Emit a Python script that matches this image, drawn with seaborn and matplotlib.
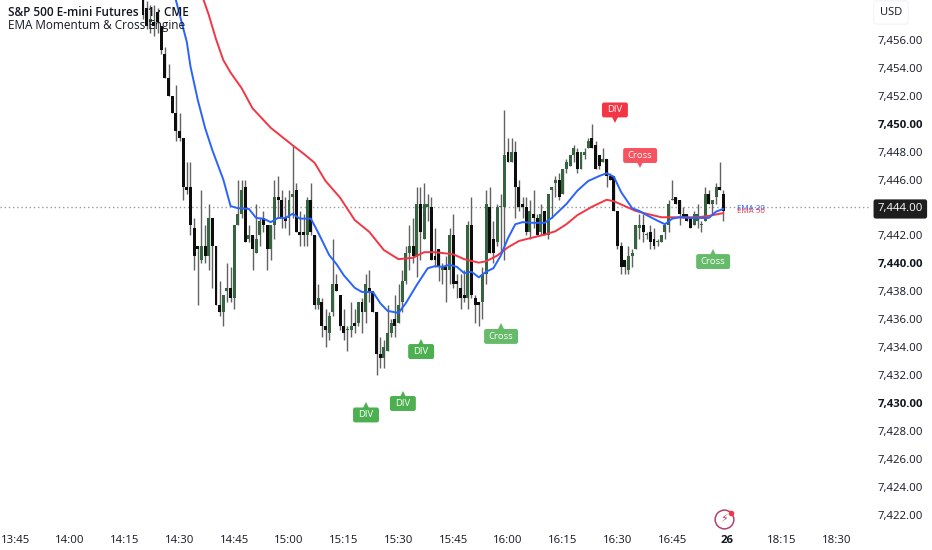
import matplotlib

matplotlib.use("Agg")

import matplotlib.pyplot as plt
import numpy as np
import seaborn as sns
from matplotlib.patches import FancyBboxPatch

# one bar per minute, bar 0 is 14:20
opens = [
    7459.5, 7458.25, 7457.25, 7457.25, 7458.0, 7457.0, 7455.0, 7453.25, 7452.0, 7450.75,
    7449.5, 7449.0, 7445.5, 7445.5, 7442.5, 7441.25, 7440.25, 7441.25, 7440.5, 7443.25,
    7441.25, 7437.0, 7436.5, 7438.0, 7438.25, 7437.5, 7442.75, 7443.5, 7445.5, 7441.75,
    7442.0, 7440.75, 7442.0, 7443.25, 7442.75, 7441.0, 7442.75, 7444.75, 7444.5, 7443.25,
    7443.25, 7444.75, 7445.25, 7442.25, 7442.25, 7442.0, 7444.5, 7442.0, 7437.0, 7437.25,
    7435.5, 7435.0, 7436.5, 7438.5, 7437.75, 7435.5, 7435.25, 7435.25, 7435.75, 7435.75,
    7437.25, 7436.5, 7438.25, 7438.0, 7436.5, 7433.5, 7433.25, 7433.75, 7435.0, 7436.0,
    7435.75, 7437.25, 7438.75, 7440.75, 7441.25, 7440.5, 7444.25, 7441.75, 7444.0, 7444.0,
    7440.5, 7441.0, 7439.5, 7439.75, 7439.5, 7442.0, 7438.75, 7438.25, 7437.75, 7437.5,
    7442.75, 7437.5, 7437.25, 7437.25, 7439.25, 7444.0, 7441.75, 7441.5, 7444.0, 7444.0,
    7448.0, 7447.25, 7448.0, 7445.5, 7444.25, 7444.0, 7442.25, 7443.5, 7443.25, 7442.25,
    7443.75, 7442.0, 7445.25, 7445.75, 7446.0, 7445.0, 7446.75, 7447.0, 7447.75, 7448.0,
    7446.75, 7447.75, 7448.25, 7449.0, 7448.5, 7447.75, 7447.25, 7447.5, 7446.25, 7446.25,
    7443.75, 7441.25, 7440.25, 7439.5, 7440.5, 7441.0, 7442.5, 7442.75, 7442.0, 7442.25,
    7441.75, 7441.5, 7441.5, 7442.25, 7442.75, 7444.5, 7444.75, 7444.5, 7443.5, 7443.5,
    7443.25, 7442.75, 7443.0, 7442.75, 7443.0, 7445.0, 7444.25, 7444.75, 7445.5, 7445.0,
]
highs = [
    7460.0, 7458.75, 7458.5, 7458.5, 7458.25, 7457.0, 7455.5, 7454.25, 7452.0, 7452.75,
    7450.75, 7449.0, 7447.25, 7447.25, 7443.25, 7441.25, 7445.25, 7442.75, 7444.25, 7443.25,
    7441.25, 7438.75, 7437.75, 7440.0, 7439.75, 7442.75, 7446.0, 7446.0, 7446.0, 7442.75,
    7442.0, 7444.25, 7443.25, 7443.75, 7442.75, 7442.75, 7446.0, 7446.25, 7445.25, 7444.75,
    7445.25, 7448.5, 7445.75, 7443.75, 7443.5, 7444.75, 7445.75, 7442.0, 7438.5, 7437.5,
    7436.75, 7436.5, 7441.75, 7439.25, 7437.75, 7436.75, 7435.5, 7437.25, 7436.75, 7437.25,
    7437.5, 7439.25, 7439.5, 7438.0, 7436.5, 7434.75, 7434.5, 7437.0, 7436.0, 7437.75,
    7438.5, 7439.5, 7441.25, 7442.75, 7443.25, 7445.5, 7445.5, 7445.75, 7445.0, 7444.75,
    7442.5, 7441.0, 7440.0, 7440.5, 7442.5, 7443.5, 7439.25, 7439.25, 7439.5, 7443.0,
    7444.75, 7437.75, 7437.25, 7439.75, 7445.25, 7445.5, 7443.0, 7444.25, 7445.0, 7451.0,
    7449.0, 7449.0, 7448.75, 7446.0, 7444.75, 7444.75, 7444.5, 7445.25, 7443.5, 7444.25,
    7443.75, 7445.0, 7445.5, 7446.25, 7446.5, 7446.75, 7447.5, 7447.75, 7448.5, 7448.25,
    7448.0, 7448.25, 7449.0, 7450.0, 7448.75, 7447.75, 7448.25, 7447.5, 7446.5, 7446.25,
    7443.75, 7441.5, 7440.25, 7441.25, 7441.0, 7442.75, 7443.5, 7443.5, 7442.25, 7442.75,
    7442.5, 7441.75, 7442.0, 7442.75, 7444.5, 7446.0, 7444.75, 7444.5, 7444.0, 7443.5,
    7443.25, 7443.75, 7444.25, 7443.0, 7445.5, 7445.25, 7444.5, 7445.75, 7447.25, 7445.25,
]
lows = [
    7457.5, 7456.75, 7456.5, 7456.25, 7456.5, 7455.0, 7453.25, 7452.0, 7450.75, 7448.75,
    7448.75, 7444.5, 7445.0, 7442.0, 7439.5, 7437.0, 7440.0, 7440.0, 7439.5, 7438.25,
    7437.0, 7436.25, 7435.5, 7437.25, 7437.25, 7436.75, 7442.75, 7443.25, 7441.5, 7441.5,
    7439.5, 7440.75, 7441.25, 7442.25, 7439.5, 7440.25, 7441.75, 7443.25, 7442.5, 7442.5,
    7442.0, 7443.25, 7442.25, 7441.25, 7441.25, 7441.25, 7442.0, 7436.75, 7436.75, 7434.75,
    7434.0, 7434.5, 7436.25, 7438.0, 7435.25, 7434.5, 7433.75, 7434.75, 7435.0, 7435.5,
    7435.0, 7435.75, 7437.25, 7436.5, 7432.0, 7432.5, 7432.5, 7433.75, 7434.75, 7434.75,
    7435.75, 7436.5, 7438.5, 7439.5, 7440.0, 7439.0, 7440.25, 7441.75, 7443.0, 7440.25,
    7439.75, 7438.75, 7438.5, 7437.25, 7438.5, 7438.25, 7437.5, 7436.75, 7437.25, 7436.75,
    7437.5, 7435.75, 7435.5, 7436.0, 7438.5, 7440.75, 7440.0, 7441.25, 7440.75, 7440.25,
    7447.25, 7447.25, 7443.25, 7443.75, 7443.25, 7442.0, 7441.75, 7442.5, 7442.0, 7442.0,
    7442.0, 7441.75, 7443.25, 7444.75, 7444.5, 7445.0, 7446.5, 7447.0, 7447.25, 7446.5,
    7446.75, 7447.5, 7448.25, 7448.25, 7446.75, 7446.75, 7447.25, 7445.5, 7446.0, 7443.75,
    7441.0, 7439.25, 7439.25, 7439.25, 7439.75, 7441.0, 7441.75, 7441.5, 7441.75, 7441.0,
    7441.0, 7441.25, 7441.5, 7441.75, 7442.25, 7444.5, 7444.25, 7442.75, 7443.25, 7443.0,
    7442.5, 7442.75, 7442.5, 7442.25, 7443.0, 7444.25, 7443.5, 7444.25, 7445.25, 7443.0,
]
closes = [
    7457.75, 7457.0, 7457.5, 7457.0, 7457.25, 7455.25, 7453.25, 7452.0, 7450.75, 7449.5,
    7449.0, 7445.5, 7445.25, 7442.75, 7440.5, 7441.0, 7441.25, 7440.5, 7443.25, 7441.25,
    7437.0, 7436.5, 7437.75, 7438.25, 7437.5, 7442.75, 7443.5, 7445.25, 7441.5, 7442.0,
    7441.0, 7441.75, 7443.0, 7442.75, 7441.0, 7442.75, 7444.75, 7444.5, 7443.25, 7443.0,
    7444.5, 7445.0, 7442.25, 7442.0, 7442.0, 7444.5, 7442.25, 7437.0, 7437.5, 7435.5,
    7435.25, 7436.25, 7438.5, 7438.0, 7435.5, 7435.0, 7435.25, 7435.5, 7435.5, 7437.25,
    7436.5, 7438.5, 7438.0, 7436.5, 7433.5, 7433.25, 7434.0, 7435.0, 7435.75, 7435.5,
    7437.0, 7438.75, 7440.75, 7441.25, 7440.5, 7444.25, 7442.25, 7444.25, 7444.25, 7440.25,
    7440.25, 7439.75, 7439.75, 7439.5, 7442.0, 7438.5, 7438.5, 7437.5, 7437.5, 7442.75,
    7437.75, 7437.0, 7437.0, 7439.25, 7444.25, 7440.75, 7440.75, 7444.0, 7444.0, 7447.75,
    7447.25, 7448.0, 7445.5, 7444.0, 7444.0, 7442.25, 7443.75, 7443.25, 7442.0, 7443.5,
    7442.0, 7445.0, 7445.5, 7446.0, 7444.75, 7446.75, 7447.25, 7447.75, 7448.25, 7446.75,
    7448.0, 7448.0, 7448.75, 7448.25, 7446.75, 7447.0, 7447.5, 7446.25, 7446.0, 7443.75,
    7441.25, 7439.75, 7439.75, 7440.5, 7440.75, 7442.75, 7442.75, 7442.25, 7442.0, 7441.5,
    7441.25, 7441.5, 7442.0, 7442.75, 7444.25, 7444.5, 7444.25, 7443.5, 7443.25, 7443.0,
    7442.5, 7443.5, 7443.5, 7442.75, 7445.0, 7444.25, 7444.5, 7445.5, 7445.25, 7443.75,
]

ema20_bars = [
    9, 12, 13, 15, 17, 19, 22, 24, 26, 29, 31, 33, 35, 37, 39, 41, 43, 46, 48, 51, 53, 55, 58, 60,
    63, 65, 67, 70, 72, 75, 78, 80, 82, 84, 86, 88, 90, 92, 94, 96, 98, 100, 102, 104, 107, 110,
    112, 114, 116, 119, 122, 125, 127, 129, 131, 134, 136, 138, 141, 143, 145, 147, 150, 155, 157,
    159,
]
ema20_values = [
    7458.85, 7455.85, 7454.1, 7451.7, 7449.7, 7448.1, 7446.0, 7444.1, 7443.95, 7443.9, 7443.25,
    7443.2, 7442.95, 7443.25, 7443.25, 7443.55, 7443.2, 7443.2, 7442.2, 7440.6, 7439.95, 7439.15,
    7438.25, 7437.95, 7437.95, 7437.15, 7436.6, 7436.45, 7437.15, 7438.45, 7439.65, 7439.8,
    7439.75, 7439.9, 7439.75, 7439.3, 7439.4, 7439.0, 7439.4, 7439.65, 7440.55, 7441.8, 7442.8,
    7442.95, 7442.9, 7442.9, 7443.25, 7443.75, 7444.25, 7445.2, 7445.9, 7446.25, 7446.45, 7446.2,
    7445.1, 7443.95, 7443.75, 7443.45, 7443.05, 7442.8, 7443.2, 7443.3, 7443.25, 7443.25, 7443.7,
    7443.9,
]
ema50_bars = [
    16, 18, 20, 22, 24, 27, 30, 35, 41, 44, 47, 50, 54, 58, 62, 66, 70, 74, 77, 80, 85, 88, 92, 94,
    97, 100, 103, 106, 110, 113, 116, 119, 123, 127, 129, 132, 135, 138, 142, 146, 152, 155, 159,
]
ema50_values = [
    7459.3, 7457.8, 7456.05, 7454.55, 7453.65, 7452.55, 7451.1, 7449.7, 7448.45, 7447.85, 7447.2,
    7445.9, 7444.7, 7443.1, 7442.25, 7440.95, 7440.3, 7440.4, 7440.8, 7440.8, 7440.65, 7440.3,
    7440.05, 7440.15, 7440.55, 7441.15, 7441.6, 7441.8, 7442.05, 7442.3, 7442.8, 7443.45, 7444.05,
    7444.55, 7444.45, 7444.1, 7443.75, 7443.55, 7443.3, 7443.3, 7443.3, 7443.4, 7443.6,
]

signal_bars = [129.3, 136.2, 156.2, 98.1, 76.2, 71.2, 61.1]
signal_prices = [7450.98, 7447.72, 7440.13, 7434.77, 7433.69, 7429.97, 7429.15]
signal_texts = ["DIV", "Cross", "Cross", "Cross", "DIV", "DIV", "DIV"]
signal_colors = ["#f23645", "#f7525f", "#66bb6a", "#66bb6a", "#4caf50", "#4caf50", "#4caf50"]
signal_up = [False, False, True, True, True, True, True]

time_ticks = [-35, -20, -5, 10, 25, 40, 55, 70, 85, 100, 115, 130, 145, 160, 175, 190]
time_labels = [
    "13:45", "14:00", "14:15", "14:30", "14:45", "15:00", "15:15", "15:30",
    "15:45", "16:00", "16:15", "16:30", "16:45", "26", "18:15", "18:30",
]
price_ticks = list(range(7422, 7457, 2))
bold_prices = [7430, 7440, 7450]
last_price = 7444

UP_COLOR = "#35653f"
DOWN_COLOR = "#0d0d0d"
WICK_COLOR = "#626262"
BLUE = "#2962ff"
RED = "#f23645"
TEXT = "#131722"

sns.set_theme(style="white")
plt.rcParams["font.family"] = ["Open Sans", "DejaVu Sans"]

fig = plt.figure(figsize=(9.32, 5.5), dpi=100)
ax = fig.add_axes([0, 23 / 550, 870 / 932, 527 / 550])
ax.set_xlim(-39.18, 199.18)
ax.set_ylim(7421.13, 7458.85)
sns.despine(ax=ax, left=True, bottom=True, right=True, top=True)

ax.axhline(last_price, color="#9a9a9a", linewidth=1, linestyle=(0, (1, 2)), zorder=1)

bars = np.arange(len(opens))
o, h, l, c = map(np.array, (opens, highs, lows, closes))
rising = c >= o
ax.vlines(bars, l, h, color=WICK_COLOR, linewidth=1.0, zorder=2)
body_top = np.maximum(o, c)
body_low = np.minimum(o, c)
# doji bars still get a sliver of body
heights = np.maximum(body_top - body_low, 0.08)
ax.bar(bars, heights, bottom=body_low, width=0.8, linewidth=0, zorder=3,
       color=[UP_COLOR if r else DOWN_COLOR for r in rising])

sns.lineplot(x=ema50_bars, y=ema50_values, ax=ax, color=RED, linewidth=1.4, zorder=4)
sns.lineplot(x=ema20_bars, y=ema20_values, ax=ax, color=BLUE, linewidth=1.4, zorder=5)

for bar, price, text, color, up in zip(signal_bars, signal_prices, signal_texts, signal_colors, signal_up):
    # box size in bars and points, the y scale is about 3.8x the x scale in pixels
    box_w = 9.3 if text == "Cross" else 7.1
    box_h = 1.07
    box = FancyBboxPatch((bar - box_w / 2, price - box_h / 2), box_w, box_h,
                         boxstyle="round,pad=0,rounding_size=0.6", mutation_aspect=0.26,
                         fc=color, ec="none", zorder=6)
    ax.add_patch(box)
    tip_offset = 0.57 if up else -0.57
    ax.plot([bar], [price + tip_offset], marker="^" if up else "v", markersize=7, color=color,
            markeredgewidth=0, zorder=6)
    ax.text(bar, price, text, color="white", fontsize=6.8, fontweight="medium", ha="center", va="center",
            zorder=7)

ax.text(162.7, 7443.93, "EMA 20", color=BLUE, fontsize=5.8, ha="left", va="center", zorder=6)
ax.text(162.7, 7443.7, "EMA 50", color=RED, fontsize=5.8, ha="left", va="center", zorder=6)

# exchange badge near the bottom
ax.plot([159.2], [7421.7], marker="o", markersize=13.5, markerfacecolor="white", markeredgecolor="#b7406d",
        markeredgewidth=1.1, clip_on=False, zorder=6)
ax.text(159.2, 7421.66, "\u26a1", color="#b7406d", fontsize=8, ha="center", va="center",
        family="DejaVu Sans", clip_on=False, zorder=7)
ax.plot([161.0], [7422.15], marker="o", markersize=4, color="#f23645", markeredgewidth=0, clip_on=False, zorder=8)

ax.set_xticks(time_ticks)
ax.set_xticklabels(time_labels)
ax.yaxis.tick_right()
ax.set_yticks(price_ticks)
ax.set_yticklabels([f"{p:,.2f}" for p in price_ticks])
ax.tick_params(axis="both", length=0, labelcolor=TEXT, labelsize=8.2)
ax.tick_params(axis="x", pad=6)
ax.tick_params(axis="y", pad=5.5)
ax.set_xlabel("")
ax.set_ylabel("")

for label in ax.get_xticklabels():
    if label.get_text() == "26":
        label.set_fontweight("bold")
for price, label in zip(price_ticks, ax.get_yticklabels()):
    if price in bold_prices:
        label.set_fontweight("bold")
    if price == last_price:
        label.set_color("white")
        label.set_bbox(dict(boxstyle="round,pad=0.36,rounding_size=0.2", fc="#1e1e1e", ec="none"))

fig.text(8 / 932, 1 - 12.5 / 550, "S&P 500 E-mini Futures \u00b7 1 \u00b7 CME", fontsize=8.5, fontweight="semibold",
         color=TEXT, ha="left", va="center", zorder=9)
fig.text(8 / 932, 1 - 26 / 550, "EMA Momentum & Cross Engine", fontsize=8.5, color=TEXT, ha="left", va="center", zorder=9)
fig.text(891 / 932, 1 - 12.5 / 550, "USD", fontsize=8, color=TEXT, ha="center", va="center",
         bbox=dict(boxstyle="round,pad=0.55,rounding_size=0.3", fc="white", ec="#f0f3fa", linewidth=0.8))

fig.savefig("out.png", dpi=100, facecolor="white")
